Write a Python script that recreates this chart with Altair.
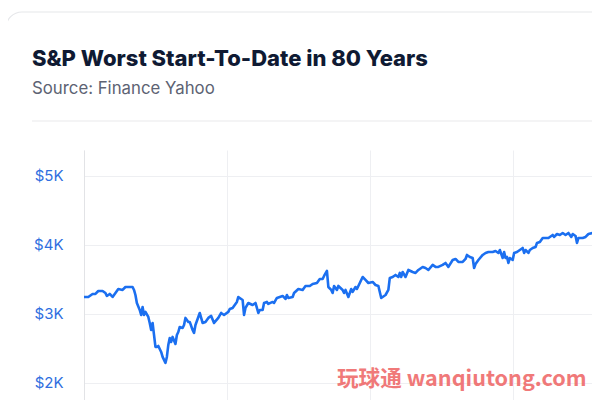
import altair as alt
import pandas as pd

title_text = "S&P Worst Start-To-Date in 80 Years"
subtitle_text = "Source: Finance Yahoo"
watermark_text = "玩球通 wanqiutong.com"

# trading-day index and S&P 500 close
day = [0, 3, 6, 8, 10, 13, 15, 16, 18, 20, 22, 24, 27, 29, 31, 34, 35, 36, 37, 39,
       40, 41, 42, 43, 45, 46, 47, 48, 49, 50, 51, 52, 54, 55, 57, 58, 59, 60, 61, 62,
       64, 65, 66, 67, 69, 70, 71, 73, 74, 76, 77, 78, 80, 81, 83, 85, 87, 89, 91, 94,
       96, 98, 101, 102, 104, 107, 108, 111, 112, 113, 115, 118, 120, 122, 123, 125, 126, 128, 129, 132,
       133, 135, 137, 139, 141, 142, 143, 146, 147, 150, 153, 155, 158, 160, 163, 165, 167, 168, 170, 171,
       173, 174, 175, 177, 178, 181, 182, 183, 185, 187, 188, 190, 191, 193, 195, 197, 199, 202, 204, 206,
       208, 209, 211, 213, 214, 216, 218, 220, 221, 222, 223, 225, 227, 230, 232, 234, 237, 239, 241, 244,
       246, 248, 251, 253, 255, 258, 260, 262, 265, 267, 268, 270, 272, 273, 274, 276, 279, 281, 283, 286,
       288, 290, 291, 293, 294, 295, 296, 297, 298, 300, 301, 303, 305, 307, 308, 309, 311, 312, 314, 316,
       317, 319, 321, 323, 325, 328, 329, 331, 333, 335, 337, 339, 341, 342, 344, 345, 346, 349, 351, 353,
       356, 358, 360]
close = [3244, 3244, 3288, 3288, 3331, 3331, 3302, 3259, 3288, 3244, 3302, 3360, 3346, 3389, 3389, 3389, 3346, 3273, 3157, 3056,
         2983, 3099, 2983, 3027, 2954, 2867, 2765, 2867, 2693, 2519, 2519, 2533, 2446, 2374, 2287, 2374, 2548, 2649, 2591, 2664,
         2562, 2693, 2736, 2809, 2794, 2838, 2940, 2882, 2882, 2765, 2722, 2838, 2954, 3012, 2867, 2882, 2940, 2969, 2867, 2940,
         3012, 2983, 3027, 3070, 3085, 3172, 3244, 3201, 2983, 3085, 3157, 3128, 3157, 3012, 3056, 3056, 3157, 3172, 3143, 3172,
         3157, 3230, 3244, 3259, 3215, 3273, 3230, 3244, 3302, 3360, 3346, 3404, 3404, 3433, 3447, 3505, 3505, 3549, 3622, 3389,
         3346, 3302, 3404, 3346, 3404, 3346, 3302, 3346, 3244, 3360, 3317, 3389, 3360, 3447, 3534, 3491, 3447, 3462, 3418, 3404,
         3230, 3244, 3273, 3346, 3520, 3534, 3564, 3534, 3593, 3534, 3607, 3534, 3636, 3607, 3593, 3636, 3680, 3665, 3636, 3709,
         3680, 3680, 3709, 3738, 3680, 3781, 3796, 3752, 3752, 3796, 3854, 3825, 3810, 3665, 3723, 3781, 3854, 3883, 3897, 3897,
         3912, 3883, 3926, 3810, 3897, 3810, 3825, 3738, 3810, 3781, 3883, 3897, 3926, 3955, 3883, 3926, 3883, 3926, 3955, 3970,
         4028, 4042, 4100, 4100, 4100, 4144, 4115, 4158, 4144, 4173, 4144, 4173, 4115, 4158, 4129, 4028, 4100, 4100, 4115, 4158,
         4173, 4173, 4173]

y_ticks = [2000, 3000, 4000, 5000]
x_ticks = [0, 100, 200, 300]

df = pd.DataFrame({"day": day, "close": close})
one = pd.DataFrame({"k": [0]})

FONT = "Inter"
BLUE = "#1b6ff0"

card = alt.Chart(one).mark_rect(
    fill="transparent", stroke="#e6e7ea", strokeWidth=1.2, cornerRadius=16
).encode(x=alt.value(-78), x2=alt.value(640), y=alt.value(-138), y2=alt.value(420))

divider = alt.Chart(one).mark_rule(color="#e9eaec", strokeWidth=1.2).encode(
    x=alt.value(-52), x2=alt.value(640), y=alt.value(-29)
)

title = alt.Chart(one).mark_text(
    text=title_text, font=FONT, fontSize=22, fontWeight=800, color="#0f1a33",
    align="left", baseline="alphabetic"
).encode(x=alt.value(-52), y=alt.value(-84))

subtitle = alt.Chart(one).mark_text(
    text=subtitle_text, font=FONT, fontSize=16.8, color="#5d6373",
    align="left", baseline="alphabetic"
).encode(x=alt.value(-52), y=alt.value(-56))

line = alt.Chart(df).mark_line(color=BLUE, strokeWidth=2.6, strokeJoin="round", clip=True).encode(
    x=alt.X("day:Q", scale=alt.Scale(domain=[0, 355.5], nice=False, zero=False),
            axis=alt.Axis(values=x_ticks, labels=False, ticks=False, domain=False, title=None,
                          grid=True, gridColor="#eeeff2", gridWidth=1)),
    y=alt.Y("close:Q", scale=alt.Scale(domain=[1749, 5377], nice=False, zero=False),
            axis=alt.Axis(values=y_ticks, labelExpr="'$' + datum.value / 1000 + 'K'",
                          ticks=False, domain=True, domainColor="#e2e3e6", title=None,
                          labelColor="#2f6fe0", labelFont=FONT, labelFontSize=15,
                          labelPadding=21, grid=True, gridColor="#eeeff2", gridWidth=1)),
)

watermark = alt.Chart(one).mark_text(
    text=watermark_text, font="Noto Sans CJK SC", fontSize=21.6, fontWeight="bold",
    color="#ef6b6b", opacity=0.9, align="left", baseline="alphabetic"
).encode(x=alt.value(253), y=alt.value(236))

chart = alt.layer(card, divider, title, subtitle, line, watermark).properties(
    width=508, height=250,
    autosize=alt.AutoSizeParams(type="none"),
    padding={"left": 76, "top": 142, "right": 0, "bottom": 0},
).configure_view(strokeWidth=0)

chart.save("out.html", embed_options={"renderer": "svg", "actions": False})
